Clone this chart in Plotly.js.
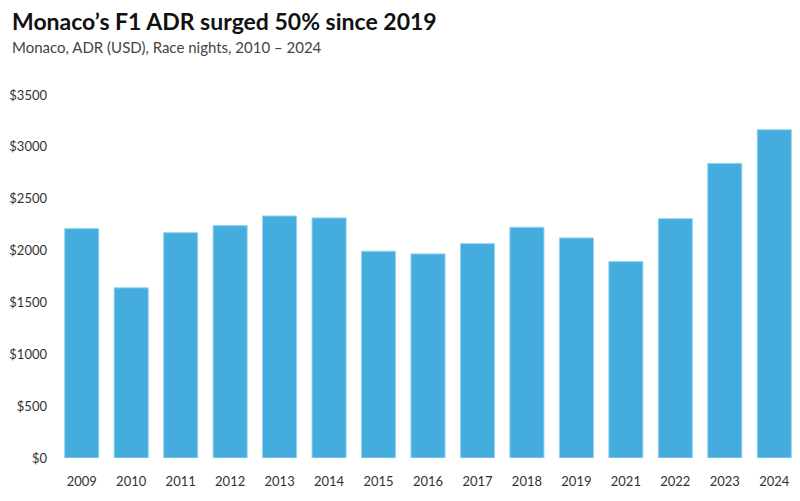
<!DOCTYPE html>
<html>
<head>
<meta charset="utf-8">
<script src="https://cdn.plot.ly/plotly-3.0.1.min.js"></script>
<style>html,body{margin:0;padding:0;background:#fff;}#chart{width:800px;height:501px;}</style>
</head>
<body>
<div id="chart"></div>
<script>
const years = ["2009","2010","2011","2012","2013","2014","2015","2016","2017","2018","2019","2021","2022","2023","2024"];
const adr = [2212,1641,2173,2241,2334,2315,1994,1968,2067,2225,2122,1894,2308,2841,3165];
const yTicks = [0,500,1000,1500,2000,2500,3000,3500];
const yTickLabels = yTicks.map(v => "$" + v);

const FONT = "Lato, 'Source Sans Pro', 'Noto Sans', sans-serif";

Plotly.newPlot("chart", [{
  type: "bar",
  x: years,
  y: adr,
  marker: {color: "#44ADDE", line: {color: "#9AD5F0", width: 1}},
  hoverinfo: "x+y"
}], {
  width: 800, height: 501,
  margin: {l: 57, r: 1, t: 95, b: 43},
  paper_bgcolor: "#fff",
  plot_bgcolor: "#fff",
  bargap: 0.31,
  font: {family: FONT, color: "#333", size: 13},
  xaxis: {type: "category", showgrid: false, showline: false, zeroline: false, ticks: "",
          tickfont: {size: 13, color: "#333"}, ticklabelstandoff: 14},
  yaxis: {range: [0, 3500], tickvals: yTicks, ticktext: yTickLabels, showgrid: false,
          zeroline: false, showline: false, ticks: "", tickfont: {size: 13, color: "#333"},
          ticklabelstandoff: 9},
  annotations: [
    {text: "<b>Monaco’s F1 ADR surged 50% since 2019</b>", xref: "paper", yref: "paper",
     x: 0, y: 0, xanchor: "left", yanchor: "middle", showarrow: false,
     font: {size: 23, color: "#111", family: FONT}},
    {text: "Monaco, ADR (USD), Race nights, 2010 – 2024", xref: "paper", yref: "paper",
     x: 0, y: 0, xanchor: "left", yanchor: "middle", showarrow: false,
     font: {size: 15, color: "#444", family: FONT}}
  ],
  showlegend: false
}, {displayModeBar: false, staticPlot: true}).then(gd => {
  const ph = 501 - 95 - 43, pw = 800 - 57 - 1;
  const toPaperX = px => (px - 57) / pw;
  const toPaperY = py => (501 - 43 - py) / ph;
  Plotly.relayout(gd, {
    "annotations[0].x": toPaperX(10), "annotations[0].y": toPaperY(21),
    "annotations[1].x": toPaperX(10), "annotations[1].y": toPaperY(47)
  });
});
</script>
</body>
</html>
